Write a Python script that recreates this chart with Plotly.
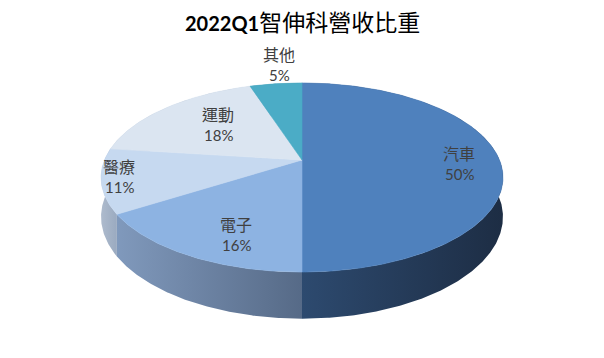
import numpy as np
import plotly.graph_objects as go

# ---- data ----
categories = ["汽車", "電子", "醫療", "運動", "其他"]
shares = [50, 16, 11, 18, 5]
pct_labels = ["50%", "16%", "11%", "18%", "5%"]
title_year = "2022Q1"
title_text = "智伸科營收比重"

# ---- style ----
top_colors = ["#4F81BD", "#8DB3E2", "#C6D9F0", "#DBE5F1", "#4BACC6"]
side_colors = [("#2D4A6F", "#1D2D44"), ("#8099BC", "#566A87"), ("#AEBBCD", "#9AAAC0"),
               ("#B8C4D4", "#A8B6C8"), ("#3A8CA2", "#2F7689")]
label_pos = [(459, 163), (236, 234), (119, 176), (218, 124), (279, 64)]
FONT = "Lato, 'Noto Sans CJK TC', sans-serif"
TEXT_COLOR = "#404040"

# projection geometry (pixels of the 604x358 window)
CX, CY, SX, SY, P, DEPTH = 302, 160, 197.5, 91.3, 0.185, 38.0
PAGE_MARGIN = 8  # default body margin of the page


def proj(t_deg, r=1.0, h=0.0):
    t = np.radians(t_deg)
    X = r * np.sin(t)
    Zf = r * np.cos(t)
    d = 1 + P * Zf
    return CX + SX * X / d, CY - SY * Zf / d + h / d


total = sum(shares)
bounds = np.concatenate([[0], np.cumsum(shares)]) / total * 360.0

fig = go.Figure()

# side walls (drawn first; top faces cover the hidden back parts)
for i in range(len(shares)):
    t0, t1 = bounds[i], bounds[i + 1]
    ts = np.linspace(t0, t1, max(int((t1 - t0) * 2), 4))
    xt, yt = proj(ts)
    xb, yb = proj(ts[::-1], h=DEPTH)
    xs = np.concatenate([xt, xb, xt[:1]])
    ys = np.concatenate([yt, yb, yt[:1]])
    left_c, right_c = side_colors[i]
    fig.add_trace(go.Scatter(
        x=xs, y=ys, mode="lines", fill="toself",
        line=dict(width=0, color=right_c),
        fillgradient=dict(type="horizontal", colorscale=[[0, left_c], [1, right_c]]),
        hoverinfo="skip", showlegend=False))

# top faces
for i in range(len(shares)):
    t0, t1 = bounds[i], bounds[i + 1]
    ts = np.linspace(t0, t1, max(int((t1 - t0) * 2), 4))
    xt, yt = proj(ts)
    xs = np.concatenate([[CX], xt, [CX]])
    ys = np.concatenate([[CY], yt, [CY]])
    fig.add_trace(go.Scatter(
        x=xs, y=ys, mode="lines", fill="toself", fillcolor=top_colors[i],
        line=dict(width=0.6, color=top_colors[i]),
        name=categories[i], hoverinfo="name", showlegend=False))

# data labels
for i, (lx, ly) in enumerate(label_pos):
    fig.add_annotation(x=lx, y=ly - 10, text=categories[i], showarrow=False,
                       font=dict(family=FONT, size=16, color=TEXT_COLOR),
                       xanchor="center", yanchor="middle")
    fig.add_annotation(x=lx, y=ly + 11, text=pct_labels[i], showarrow=False,
                       font=dict(family=FONT, size=15, color=TEXT_COLOR),
                       xanchor="center", yanchor="middle")

# title
fig.add_annotation(x=302, y=22,
                   text=f"<b>{title_year}</b><span style='font-size:23px'>{title_text}</span>",
                   showarrow=False, font=dict(family=FONT, size=20, color="#000000"),
                   xanchor="center", yanchor="middle")

W, H = 604, 358
fig.update_layout(
    width=W - 2 * PAGE_MARGIN, height=H - 2 * PAGE_MARGIN,
    margin=dict(l=0, r=0, t=0, b=0, pad=0),
    paper_bgcolor="white", plot_bgcolor="white",
    xaxis=dict(range=[PAGE_MARGIN, W - PAGE_MARGIN], visible=False, fixedrange=True),
    yaxis=dict(range=[H - PAGE_MARGIN, PAGE_MARGIN], visible=False, fixedrange=True),
    showlegend=False,
)

fig.write_html("out.html")
